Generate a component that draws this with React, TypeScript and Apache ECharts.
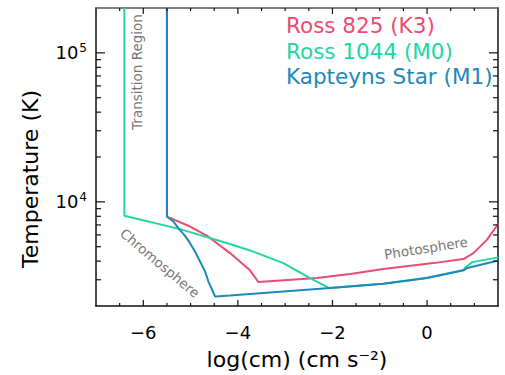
import React, { useEffect, useRef } from "react";
import * as echarts from "echarts";

// ---- data (log column mass, temperature K) ----
const ross825: [number, number][] = [
  [-5.5, 200000], [-5.5, 7950], [-5.012, 6830], [-4.659, 5940], [-4.166, 4530],
  [-3.743, 3470], [-3.601, 3000], [-3.567, 2900], [-2.332, 3080], [-1.627, 3280],
  [-0.924, 3540], [-0.571, 3650], [0.134, 3880], [0.768, 4130], [0.98, 4530],
  [1.264, 5560], [1.508, 7130],
];
const ross1044: [number, number][] = [
  [-6.4, 200000], [-6.4, 8060], [-5.223, 6560], [-4.166, 5210], [-3.743, 4720],
  [-3.038, 3880], [-2.474, 3080], [-2.066, 2640], [-0.924, 2825], [-0.006, 3085],
  [0.768, 3470], [0.81, 3630], [0.958, 3940], [1.508, 4240],
];
const kapteyn: [number, number][] = [
  [-5.5, 200000], [-5.5, 7950], [-5.365, 7385], [-5.259, 6670], [-5.117, 5915],
  [-5.012, 5280], [-4.906, 4645], [-4.8, 3980], [-4.694, 3413], [-4.625, 2930],
  [-4.553, 2600], [-4.483, 2320], [-4.166, 2355], [-3.743, 2410], [-2.051, 2640],
  [-0.924, 2825], [-0.006, 3085], [0.768, 3470], [0.852, 3600], [1.508, 4045],
];

const seriesNames = ["Ross 825 (K3)", "Ross 1044 (M0)", "Kapteyns Star (M1)"];
const seriesColors = ["#EC4C70", "#22D6A0", "#1E88BA"];

const xMajorTicks = [-6, -4, -2, 0];
const xMinorTicks = [-6.5, -5.5, -5, -4.5, -3.5, -3, -2.5, -1.5, -1, -0.5, 0.5, 1];
const yMajorTicks = [10000, 100000];
const yMinorTicks = [3000, 4000, 5000, 6000, 7000, 8000, 9000, 20000, 30000, 40000, 50000, 60000, 70000, 80000, 90000];

const X_MIN = -7;
const X_MAX = 1.5;
const Y_MIN = 2000;
const Y_MAX = 200000;

const FONT = "DejaVu Sans";

export default function App() {
  const ref = useRef<HTMLDivElement>(null);
  useEffect(() => {
    if (!ref.current) return;
    const chart = echarts.init(ref.current, undefined, { renderer: "svg" });
    const lg = (v: number) => Math.log10(v);
    const axisLineStyle = { color: "#111", width: 1.5 };
    const fmtX = (v: number) => (v < 0 ? "\u2212" + Math.abs(v) : String(v));

    // tick marks drawn as a custom series through the grid's own scales
    const tickSeries = (
      data: [number, number][],
      dx: number,
      dy: number,
    ) => ({
      type: "custom",
      xAxisIndex: 0,
      yAxisIndex: 0,
      silent: true,
      clip: false,
      z: 5,
      data,
      renderItem: (_params: any, api: any) => {
        const p = api.coord([api.value(0), api.value(1)]);
        return {
          type: "line",
          shape: { x1: p[0], y1: p[1], x2: p[0] + dx, y2: p[1] + dy },
          style: { stroke: "#111", lineWidth: 1.2 },
        };
      },
    });

    const option: any = {
      animation: false,
      backgroundColor: "#fff",
      textStyle: { fontFamily: FONT },
      grid: { left: 96, right: 7, top: 8, bottom: 69, containLabel: false },
      legend: {
        orient: "vertical",
        left: 276,
        top: 8,
        itemWidth: 0,
        itemHeight: 0,
        itemGap: 0,
        icon: "rect",
        selectedMode: false,
        textStyle: { fontSize: 21.5, fontFamily: FONT, lineHeight: 25.5 },
        data: seriesNames.map((n, i) => ({ name: n, textStyle: { color: seriesColors[i] } })),
      },
      xAxis: [
        {
          type: "value",
          min: X_MIN,
          max: X_MAX,
          position: "bottom",
          splitLine: { show: false },
          axisLine: { show: true, onZero: false, lineStyle: axisLineStyle },
          axisTick: { show: false },
          axisLabel: { show: true, customValues: xMajorTicks, formatter: fmtX, fontSize: 18, color: "#000", margin: 17, fontFamily: FONT },
          name: "log(cm) (cm s\u207B\u00B2)",
          nameLocation: "middle",
          nameGap: 42,
          nameTextStyle: { fontSize: 22, color: "#000", fontFamily: FONT },
        },
        {
          type: "value",
          min: X_MIN,
          max: X_MAX,
          position: "top",
          splitLine: { show: false },
          axisLine: { show: true, onZero: false, lineStyle: { color: "#555", width: 1.5 } },
          axisTick: { show: false },
          axisLabel: { show: false },
        },
      ],
      yAxis: [
        {
          type: "log",
          logBase: 10,
          min: Y_MIN,
          max: Y_MAX,
          position: "left",
          axisLine: { show: true, onZero: false, lineStyle: axisLineStyle },
          axisTick: { show: false },
          axisLabel: { show: false },
          splitLine: { show: false },
          minorTick: { show: false },
          name: "Temperature (K)",
          nameLocation: "middle",
          nameGap: 55,
          nameRotate: 90,
          nameTextStyle: { fontSize: 22, color: "#000", fontFamily: FONT, padding: [0, 44, 0, 0] },
        },
        {
          type: "value",
          min: lg(Y_MIN),
          max: lg(Y_MAX),
          position: "left",
          splitLine: { show: false },
          axisLine: { show: false, onZero: false },
          axisTick: { show: false },
          axisLabel: {
            show: true,
            customValues: yMajorTicks.map(lg),
            margin: 9,
            formatter: (v: number) => `{b|10}{s|${Math.round(v)}}`,
            rich: {
              b: { fontSize: 18, color: "#000", fontFamily: FONT },
              s: { fontSize: 12, color: "#000", fontFamily: FONT, padding: [0, 0, 10, 1] },
            },
          },
        },
        {
          type: "log",
          logBase: 10,
          min: Y_MIN,
          max: Y_MAX,
          position: "right",
          splitLine: { show: false },
          axisLine: { show: true, onZero: false, lineStyle: axisLineStyle },
          axisTick: { show: false },
          axisLabel: { show: false },
          minorTick: { show: false },
        },
      ],
      series: [
        ...[ross825, ross1044, kapteyn].map((d, i) => ({
          name: seriesNames[i],
          type: "line",
          xAxisIndex: 0,
          yAxisIndex: 0,
          data: d,
          symbol: "none",
          showSymbol: false,
          clip: true,
          lineStyle: { color: seriesColors[i], width: 2 },
          itemStyle: { color: seriesColors[i] },
          emphasis: { disabled: true },
          z: 3,
        })),
        // bottom & top x ticks (major/minor)
        tickSeries(xMajorTicks.map((v) => [v, Y_MIN]), 0, -6),
        tickSeries(xMinorTicks.map((v) => [v, Y_MIN]), 0, -3),
        tickSeries(xMajorTicks.map((v) => [v, Y_MAX]), 0, 6),
        tickSeries(xMinorTicks.map((v) => [v, Y_MAX]), 0, 3),
        // left & right y ticks (major/minor)
        tickSeries(yMajorTicks.map((v) => [X_MIN, v]), 9, 0),
        tickSeries(yMinorTicks.map((v) => [X_MIN, v]), 5, 0),
        tickSeries(yMajorTicks.map((v) => [X_MAX, v]), -9, 0),
        tickSeries(yMinorTicks.map((v) => [X_MAX, v]), -5, 0),
      ],
      graphic: [
        {
          type: "text",
          x: 137,
          y: 72,
          rotation: Math.PI / 2,
          style: { text: "Transition Region", fontSize: 13.5, fontFamily: FONT, fill: "#777", align: "center", verticalAlign: "middle" },
        },
        {
          type: "text",
          x: 160,
          y: 263,
          rotation: -0.7,
          style: { text: "Chromosphere", fontSize: 13.5, fontFamily: FONT, fill: "#777", align: "center", verticalAlign: "middle" },
        },
        {
          type: "text",
          x: 426,
          y: 248,
          rotation: 0.155,
          style: { text: "Photosphere", fontSize: 13.5, fontFamily: FONT, fill: "#777", align: "center", verticalAlign: "middle" },
        },
      ],
    };
    chart.setOption(option);
    return () => chart.dispose();
  }, []);
  return <div ref={ref} style={{ width: 505, height: 375, position: "absolute", left: 0, top: 0 }} />;
}
